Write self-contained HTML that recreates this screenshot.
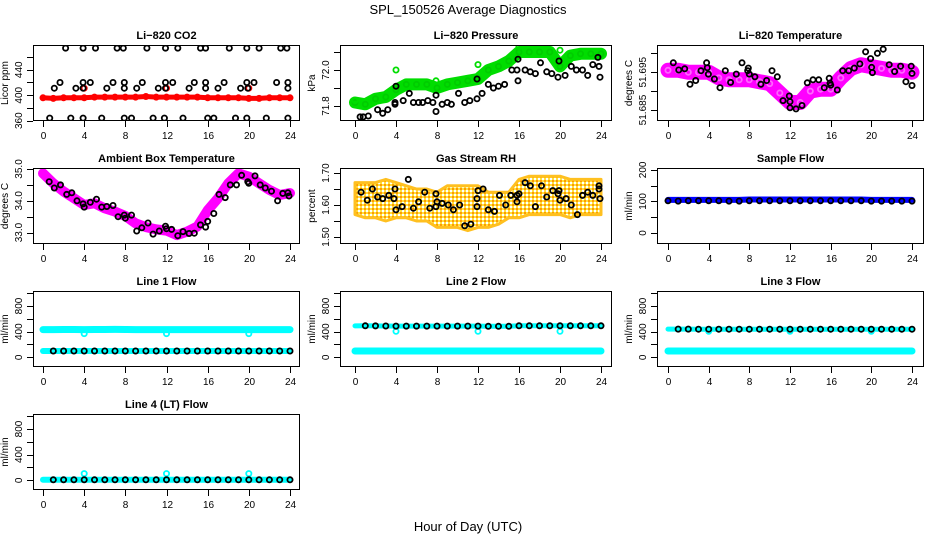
<!DOCTYPE html>
<html><head><meta charset="utf-8"><style>
html,body{margin:0;padding:0;background:#fff;}
svg{display:block;font-family:"Liberation Sans",Arial,sans-serif;}
</style></head><body>
<svg id="chart" width="936" height="540" viewBox="0 0 936 540" xmlns="http://www.w3.org/2000/svg">
<defs>
<pattern id="rhpat" width="4" height="4" patternUnits="userSpaceOnUse"><rect width="4" height="4" fill="#ffe040"/><rect width="2" height="2" fill="#ff9a00"/><rect x="2" y="2" width="2" height="2" fill="#ffffff"/></pattern>
</defs>
<text x="468" y="14" text-anchor="middle" font-size="13">SPL_150526  Average Diagnostics</text>
<text x="468" y="531" text-anchor="middle" font-size="13">Hour of Day (UTC)</text>
</svg>
<script>
const HOURS=[0,1,2,3,4,5,6,7,8,9,10,11,12,13,14,15,16,17,18,19,20,21,22,23,24];
const XTICKS=[0,4,8,12,16,20,24];
// CO2
const co2Red=[396,395,396,396,396,397,397,397,397,397,398,397,397,397,397,397,396,396,396,396,395,395,396,396,396];
const co2RedOutT=[4,12,20];
const co2RedOutV=[411,411,411];
const co2BlkT=[2.2,3.9,5.1,7.2,7.8,10.1,11.9,13.1,15.3,15.8,18.1,19.8,21.0,23.1,23.7,1.1,3.2,3.9,6.2,7.9,9.1,11.2,11.9,14.2,15.8,17.0,19.2,19.9,23.8,1.65,3.9,4.6,6.8,7.9,9.65,11.9,12.6,14.7,15.8,17.6,19.8,20.5,22.7,23.8,0.65,2.7,3.9,5.7,7.9,8.6,10.7,11.8,13.6,16.0,16.6,18.7,19.8,21.7,23.8];
const co2BlkV=[474,474,474,474,474,474,474,474,474,474,474,474,474,474,474,411,411,411,411,411,411,411,411,411,411,411,411,411,411,420,420,420,420,420,420,420,420,420,420,420,420,420,420,420,364,364,364,364,364,364,364,364,364,364,364,364,364,364,364];
// Pressure
const prGreen=[71.82,71.81,71.84,71.85,71.89,71.92,71.92,71.92,71.90,71.92,71.93,71.94,71.95,72.00,72.02,72.05,72.10,72.10,72.10,72.10,72.02,72.08,72.09,72.09,72.09];
const prGreenOutT=[0,4,7.9,12,16,20];
const prGreenOutV=[71.83,72.0,71.94,72.03,72.13,72.11];
const prBlkT=[0.5,0.8,1.3,2.2,2.7,3.2,3.9,3.9,4.0,4.7,5.3,5.7,6.2,6.6,7.1,7.6,7.9,7.9,8.5,9.0,9.4,10.1,10.7,11.2,11.9,11.9,12.4,13.0,13.5,14.0,14.6,15.3,15.8,15.9,15.9,16.6,17.1,17.6,18.1,18.7,19.2,19.8,19.9,20.5,21.1,21.6,22.2,22.7,23.2,23.7,23.8,23.9];
const prBlkV=[71.74,71.74,71.745,71.78,71.76,71.78,71.82,71.81,71.91,71.83,71.87,71.82,71.82,71.82,71.83,71.82,71.77,71.86,71.81,71.82,71.81,71.87,71.82,71.83,71.84,71.95,71.87,71.92,71.90,71.91,71.92,72.0,72.0,72.06,71.94,72.0,71.99,71.98,72.04,71.99,71.98,71.96,72.05,71.97,72.02,72.0,72.0,71.97,72.03,72.07,72.02,71.96];
// Li-820 temperature
const tmpMag=[51.6955,51.6955,51.6950,51.6950,51.6950,51.6935,51.6930,51.6930,51.6930,51.6925,51.6920,51.6895,51.6870,51.6870,51.6900,51.6905,51.6905,51.6935,51.6960,51.6970,51.6965,51.6960,51.6955,51.6955,51.6950];
const tmpBlkT=[0.52,1.05,1.64,2.16,2.72,3.25,3.8,3.87,3.97,4.56,5.11,5.64,6.16,6.72,7.28,7.84,7.9,8.0,8.55,9.14,9.7,10.23,10.75,11.31,11.93,12.0,12.0,12.59,13.18,13.7,14.26,14.82,15.37,15.86,15.93,16.0,16.65,17.18,17.77,18.32,18.88,19.44,19.93,20.03,20.1,20.6,21.17,21.76,22.29,22.88,23.4,23.92,24.0,24.0];
const tmpBlkV=[51.6975,51.6956,51.6959,51.6918,51.6928,51.6954,51.6975,51.6962,51.6945,51.6932,51.6909,51.6954,51.6923,51.6945,51.6975,51.6954,51.6961,51.6945,51.6938,51.6918,51.6928,51.6954,51.6938,51.6875,51.6887,51.6872,51.6856,51.6853,51.6862,51.6922,51.693,51.693,51.6909,51.6934,51.6921,51.6916,51.6903,51.6954,51.6954,51.6961,51.6972,51.7004,51.6986,51.6963,51.6949,51.7,51.7011,51.697,51.6952,51.6966,51.6925,51.6966,51.6947,51.6915];
// Ambient
const ambMag=[34.86,34.55,34.29,34.08,33.87,33.92,33.76,33.66,33.52,33.29,33.17,33.1,33.06,32.92,33.03,33.19,33.7,34.08,34.55,34.86,34.76,34.55,34.34,34.18,34.24];
const ambBlkT=[0.6,1.1,1.7,2.3,2.8,3.3,3.9,4.0,4.6,5.2,5.7,6.2,6.8,7.3,7.9,8.0,8.6,9.1,9.6,10.2,10.7,11.3,11.9,12.0,12.5,13.1,13.6,14.2,14.7,15.3,15.8,16.0,16.6,17.1,17.7,18.2,18.8,19.3,19.9,20.0,20.6,21.1,21.6,22.2,22.8,23.3,23.8,23.9];
const ambBlkV=[34.6,34.4,34.5,34.2,34.25,34.0,33.9,33.8,33.95,34.05,33.8,33.82,33.85,33.5,33.55,33.45,33.55,33.05,33.15,33.3,32.95,33.05,33.2,33.12,33.1,32.9,33.03,32.97,32.98,33.24,33.17,33.35,33.6,34.2,34.1,34.5,34.5,34.8,34.6,34.55,34.78,34.5,34.4,34.3,34.0,34.23,34.25,34.15];
// RH
const rhHi=[1.67,1.67,1.67,1.68,1.67,1.66,1.65,1.65,1.64,1.66,1.66,1.66,1.66,1.64,1.64,1.64,1.68,1.69,1.69,1.69,1.69,1.68,1.68,1.68,1.68];
const rhLo=[1.57,1.56,1.56,1.55,1.56,1.56,1.55,1.55,1.53,1.53,1.53,1.52,1.53,1.53,1.54,1.56,1.56,1.57,1.57,1.57,1.57,1.56,1.57,1.57,1.57];
const rhBlkT=[0.6,1.2,1.7,2.2,2.7,3.3,3.8,3.9,4.0,4.6,5.2,5.7,6.2,6.8,7.3,7.9,7.9,8.0,8.5,9.1,9.6,10.2,10.7,11.3,11.9,11.9,12.0,12.5,13.0,13.6,14.1,14.7,15.2,15.8,15.8,16.0,16.6,17.1,17.6,18.2,18.7,19.3,19.8,19.9,20.0,20.6,21.1,21.7,22.2,22.7,23.2,23.8,23.8,23.9];
const rhBlkV=[1.64,1.615,1.65,1.625,1.62,1.63,1.62,1.65,1.585,1.595,1.68,1.59,1.61,1.64,1.59,1.595,1.635,1.61,1.605,1.60,1.585,1.60,1.535,1.54,1.595,1.62,1.645,1.65,1.585,1.58,1.63,1.60,1.63,1.63,1.61,1.635,1.67,1.66,1.595,1.66,1.625,1.645,1.635,1.645,1.615,1.62,1.60,1.57,1.63,1.64,1.63,1.65,1.66,1.62];
// Flows
const sfBlue=[105,105,105,105,105,105,105,105,106,106,106,106,106,106,106,106,106,106,106,106,105,105,105,105,105];
const sfBlk=[102,101,102,102,102,102,101,101,102,102,102,102,102,102,102,102,102,102,102,102,101,101,101,101,101];
const l1Cyan=[432,432,434,434,432,434,434,436,434,432,432,432,432,432,432,432,432,432,432,432,432,432,432,432,432];
const l1Blk=[98,98,98,98,98,98,98,98,98,98,98,98,98,98,98,98,98,98,98,98,98,98,98,98,98];
const l2Cyan=[98,98,98,98,98,98,98,98,98,98,98,98,98,98,98,98,98,98,98,98,98,98,98,98,98];
const l2Blk=[490,492,490,488,486,486,486,486,486,486,486,486,486,484,484,484,492,492,492,492,492,492,492,492,492];
const l3Cyan=[98,98,98,98,98,98,98,98,98,98,98,98,98,98,98,98,98,98,98,98,98,98,98,98,98];
const l3Blk=[440,440,440,438,438,438,438,438,438,438,438,438,438,438,438,438,438,438,438,438,438,438,438,438,438];
const l4Cyan=[8,8,8,8,8,8,8,8,8,8,8,8,8,8,8,8,8,8,8,8,8,8,8,8,8];
const l4Blk=[8,8,8,8,8,8,8,8,8,8,8,8,8,8,8,8,8,8,8,8,8,8,8,8,8];
const cyanOutT=[4,12,20];
const l1CyanOutV=[370,370,370];
const l23CyanOutV=[405,405,405];
const l4CyanOutV=[105,105,105];

const NS='http://www.w3.org/2000/svg';
const svg=document.getElementById('chart');
function mk(tag,attrs,parent){const e=document.createElementNS(NS,tag);for(const k in attrs)e.setAttribute(k,attrs[k]);(parent||svg).appendChild(e);return e;}
const COLS=[{l:33,r:300,x0:43,x24:290},{l:340,r:612,x0:355,x24:601},{l:657,r:924,x0:668,x24:912}];
const ROWS=[45,168,291,414];
const H=76;
function panel(ci,ri,title,ylab,dom,ticks,labels,name){
  const c=COLS[ci],top=ROWS[ri],bot=top+H;
  const g=mk('g',{});
  
  
  const xs=t=>c.x0+(c.x24-c.x0)*t/24;
  const ys=v=>bot-(v-dom[0])/(dom[1]-dom[0])*H;
  const t=mk('text',{x:(c.l+c.r)/2,y:top-6,'text-anchor':'middle','font-size':11,'font-weight':'bold'},g);t.textContent=title;
  
  
  const plot=mk('g',{},g);
  
  
  const ax=mk('g',{stroke:'#000','stroke-width':1},g);
  
  
  mk('rect',{x:c.l+0.5,y:top+0.5,width:c.r-c.l-1,height:H-1,fill:'none'},ax);
  XTICKS.forEach(v=>{const x=Math.round(xs(v))+0.5;mk('line',{x1:x,x2:x,y1:bot,y2:bot+6},ax);
    const tl=mk('text',{x:x,y:bot+18,'text-anchor':'middle','font-size':10,stroke:'none'},g);tl.textContent=v;
    
    });
  ticks.forEach(v=>{const y=Math.round(ys(v))+0.5;mk('line',{x1:c.l-6,x2:c.l,y1:y,y2:y},ax);});
  labels.forEach(v=>{const y=ys(parseFloat(v));const lx=c.l-11;
    const tl=mk('text',{x:lx,y:y,'text-anchor':'middle','font-size':10,transform:`rotate(-90 ${lx} ${y})`},g);tl.textContent=v;
    
    });
  const yl=c.l-25,ym=(top+bot)/2;
  const yt=mk('text',{x:yl,y:ym,'text-anchor':'middle','font-size':10,transform:`rotate(-90 ${yl} ${ym})`},g);yt.textContent=ylab;
  
  
  const clip='clip'+ci+ri;
  const cp=mk('clipPath',{id:clip},g);mk('rect',{x:c.l+1,y:top+1,width:c.r-c.l-2,height:H-2},cp);
  plot.setAttribute('clip-path',`url(#${clip})`);
  return {xs,ys,plot};
}
function band(P,T,V,col,w,name){
  const d=T.map((t,i)=>(i?'L':'M')+P.xs(t).toFixed(1)+' '+P.ys(V[i]).toFixed(1)).join(' ');
  const p=mk('path',{d:d,fill:'none',stroke:col,'stroke-width':w,'stroke-linecap':'round','stroke-linejoin':'round'},P.plot);
  
  
}
function pts(P,T,V,col,name,r,sw){
  const g=mk('g',{fill:'none',stroke:col,'stroke-width':sw||1.8},P.plot);
  
  
  T.forEach((t,i)=>{const c=mk('circle',{cx:P.xs(t).toFixed(1),cy:P.ys(V[i]).toFixed(1),r:r||2.6},g);
    
    });
}
function rhArea(P){
  const up=HOURS.map((t,i)=>P.xs(t).toFixed(1)+','+P.ys(rhHi[i]).toFixed(1));
  const dn=HOURS.map((t,i)=>P.xs(t).toFixed(1)+','+P.ys(rhLo[i]).toFixed(1)).reverse();
  const p=mk('polygon',{points:up.concat(dn).join(' '),fill:'url(#rhpat)',stroke:'#ffc020','stroke-width':3,'stroke-linejoin':'round'},P.plot);
  
  
}
const FLOWT=[0,200,400,600,800,1000],FLOWL=['0','400','800'],FD=[-151,1034];
let P;
P=panel(0,0,'Li\u2212820 CO2','Licor ppm',[359.5,478.9],[360,380,400,420,440,460],['360','400','440'],'panel-co2');
band(P,HOURS,co2Red,'#ff0000',5,'co2-band');pts(P,HOURS,co2Red,'#ff0000','co2-red-points');
pts(P,co2RedOutT,co2RedOutV,'#ff0000','co2-red-outliers');pts(P,co2BlkT,co2BlkV,'#000','co2-black-points');
P=panel(1,0,'Li\u2212820 Pressure','kPa',[71.717,72.139],[71.8,71.9,72.0,72.1],['71.8','72.0'],'panel-pressure');
band(P,HOURS,prGreen,'#00dd00',12,'pressure-band');pts(P,HOURS,prGreen,'#00cc00','pressure-green-points');
pts(P,prGreenOutT,prGreenOutV,'#00dd00','pressure-green-outliers');pts(P,prBlkT,prBlkV,'#000','pressure-black-points');
P=panel(2,0,'Li\u2212820 Temperature','degrees C',[51.6821,51.7022],[51.685,51.69,51.695,51.70],['51.685','51.695'],'panel-li820-temp');
band(P,HOURS,tmpMag,'#ff00ff',15,'li820-temp-band');pts(P,HOURS,tmpMag,'#ff66ff','li820-temp-magenta-points');pts(P,tmpBlkT,tmpBlkV,'#000','li820-temp-black-points');
P=panel(0,1,'Ambient Box Temperature','degrees C',[32.64,35.03],[33,33.5,34,34.5,35],['33.0','34.0','35.0'],'panel-ambient-temp');
band(P,HOURS,ambMag,'#ff00ff',10,'ambient-band');pts(P,ambBlkT,ambBlkV,'#000','ambient-black-points');
P=panel(1,1,'Gas Stream RH','percent',[1.478,1.7156],[1.5,1.55,1.6,1.65,1.7],['1.50','1.60','1.70'],'panel-rh');
rhArea(P);pts(P,rhBlkT,rhBlkV,'#000','rh-black-points');
P=panel(2,1,'Sample Flow','ml/min',[-35,206],[0,50,100,150,200],['0','100','200'],'panel-sample-flow');
band(P,HOURS,sfBlue,'#0000ff',6,'sample-flow-band');pts(P,HOURS,sfBlk,'#000','sample-flow-black-points');
P=panel(0,2,'Line 1 Flow','ml/min',FD,FLOWT,FLOWL,'panel-line1-flow');
band(P,HOURS,l1Cyan,'#00ffff',7,'line1-cyan-band');band(P,HOURS,l1Blk,'#00ffff',6,'line1-low-band');
pts(P,cyanOutT,l1CyanOutV,'#00ffff','line1-cyan-outliers');pts(P,HOURS.slice(1),l1Blk.slice(1),'#000','line1-black-points');
P=panel(1,2,'Line 2 Flow','ml/min',FD,FLOWT,FLOWL,'panel-line2-flow');
band(P,HOURS,l2Cyan,'#00ffff',7,'line2-cyan-band');band(P,HOURS,l2Blk,'#00ffff',5,'line2-high-band');
pts(P,cyanOutT,l23CyanOutV,'#00ffff','line2-cyan-outliers');pts(P,HOURS.slice(1),l2Blk.slice(1),'#000','line2-black-points');
P=panel(2,2,'Line 3 Flow','ml/min',FD,FLOWT,FLOWL,'panel-line3-flow');
band(P,HOURS,l3Cyan,'#00ffff',7,'line3-cyan-band');band(P,HOURS,l3Blk,'#00ffff',5,'line3-high-band');
pts(P,cyanOutT,l23CyanOutV,'#00ffff','line3-cyan-outliers');pts(P,HOURS.slice(1),l3Blk.slice(1),'#000','line3-black-points');
P=panel(0,3,'Line 4 (LT) Flow','ml/min',FD,FLOWT,FLOWL,'panel-line4-flow');
band(P,HOURS,l4Cyan,'#00ffff',6,'line4-cyan-band');
pts(P,cyanOutT,l4CyanOutV,'#00ffff','line4-cyan-outliers');pts(P,HOURS.slice(1),l4Blk.slice(1),'#000','line4-black-points');
</script>
</body></html>
